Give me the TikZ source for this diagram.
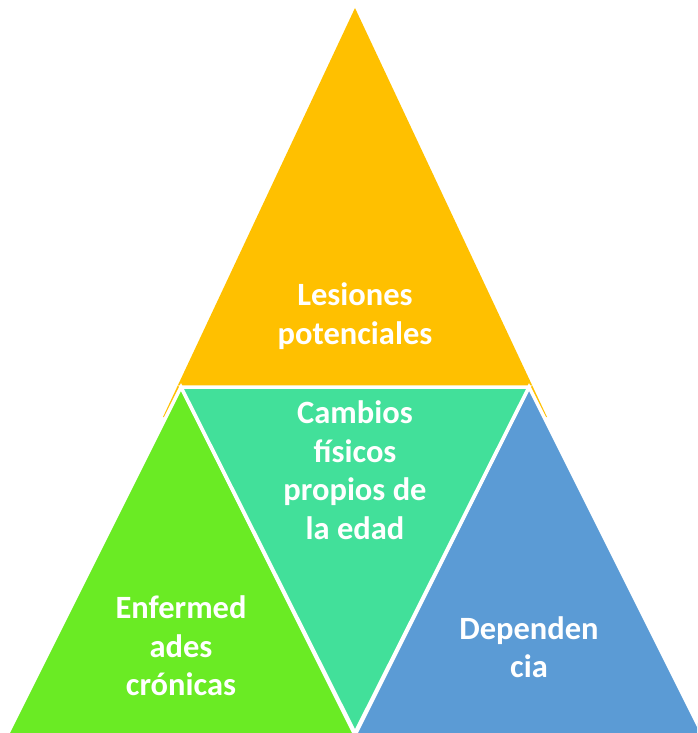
\documentclass[tikz,border=0pt]{standalone}
\usepackage{fontspec}
\setmainfont{Carlito}
\definecolor{cyellow}{RGB}{255,192,0}
\definecolor{cgreen}{RGB}{106,235,36}
\definecolor{cteal}{RGB}{66,224,154}
\definecolor{cblue}{RGB}{91,155,213}
\tikzset{
  tri/.style={draw=white, line width=3.5pt, line join=miter},
  lbl/.style={text=white, font=\fontsize{32.5}{38.5}\selectfont\bfseries, align=center, inner sep=0pt}
}
\begin{document}
\begin{tikzpicture}[x=1pt,y=-1pt]
\useasboundingbox (0,0) rectangle (697,733);
\clip (0,0) rectangle (697,733);
\fill[cyellow] (355,8) -- (547,417) -- (163,417) -- cycle;
\filldraw[tri, fill=cgreen] (181,387) -- (358.5,742) -- (3.5,742) -- cycle;
\filldraw[tri, fill=cblue] (529,387) -- (706.5,742) -- (351.5,742) -- cycle;
\filldraw[tri, fill=cteal] (181,387) -- (529,387) -- (355,733) -- cycle;
\node[lbl] (top) at (355,316) {Lesiones\\potenciales};
\node[lbl] (mid) at (355,470) {Cambios\\físicos\\propios de\\la edad};
\node[lbl] (left) at (181,646) {Enfermed\\ades\\crónicas};
\node[lbl] (right) at (529,647) {Dependen\\cia};
\end{tikzpicture}
\end{document}
